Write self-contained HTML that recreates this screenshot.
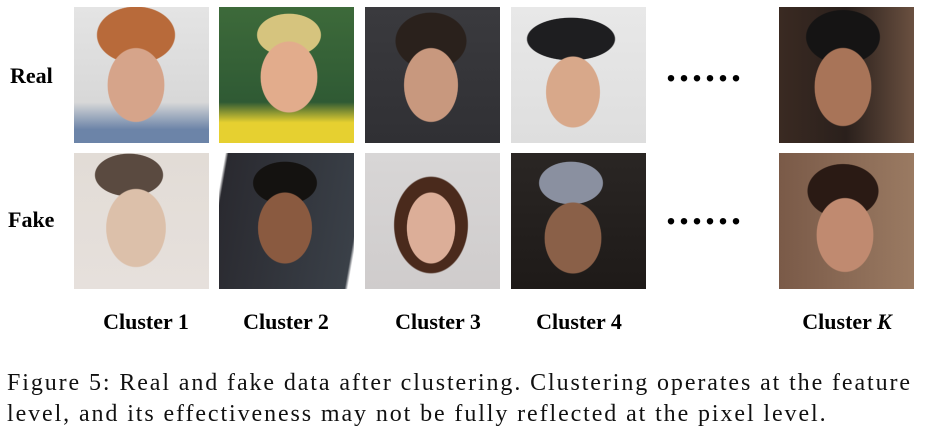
<!DOCTYPE html>
<html><head><meta charset="utf-8">
<style>
body{margin:0;width:929px;height:439px;background:#fff;overflow:hidden;position:relative;font-family:"Liberation Serif",serif;}
.img{position:absolute;width:135px;height:136px;}
.lab{position:absolute;font-weight:bold;font-size:22px;color:#000;}
.cl{position:absolute;top:309px;font-weight:bold;font-size:22px;width:160px;text-align:center;}
.dots{position:absolute;font-size:40px;font-weight:bold;letter-spacing:3px;}
.cap{position:absolute;left:7px;font-size:24px;letter-spacing:1.9px;color:#111;white-space:nowrap;}
</style></head><body>
<div class="lab" style="left:10px;top:63px">Real</div>
<div class="lab" style="left:8px;top:207px">Fake</div>

<div class="img" style="left:74px;top:7px;background:radial-gradient(ellipse 40px 52px at 62px 78px,#d6a48a 70%,transparent 72%),radial-gradient(ellipse 55px 40px at 62px 28px,#b86a3a 70%,transparent 72%),linear-gradient(#e4e4e4,#d8d8d8 70%,#6c84a8 90%)"></div>
<div class="img" style="left:219px;top:7px;background:radial-gradient(ellipse 40px 50px at 70px 70px,#e2ac8c 70%,transparent 72%),radial-gradient(ellipse 45px 30px at 70px 28px,#d6c47e 70%,transparent 72%),linear-gradient(#3d6a3a,#2f5a34 70%,#e6d030 85%)"></div>
<div class="img" style="left:365px;top:7px;background:radial-gradient(ellipse 38px 52px at 66px 78px,#c8987e 70%,transparent 72%),radial-gradient(ellipse 50px 40px at 66px 34px,#2a211c 70%,transparent 72%),linear-gradient(#3a3a3e,#303034)"></div>
<div class="img" style="left:511px;top:7px;background:radial-gradient(ellipse 38px 50px at 62px 85px,#d8a88a 70%,transparent 72%),radial-gradient(ellipse 62px 30px at 60px 32px,#1e1e20 70%,transparent 72%),linear-gradient(#e8e8e8,#dedede)"></div>
<div class="img" style="left:779px;top:7px;background:radial-gradient(ellipse 40px 55px at 64px 80px,#a87458 70%,transparent 72%),radial-gradient(ellipse 52px 38px at 64px 30px,#151414 70%,transparent 72%),linear-gradient(90deg,#3a2a22,#2a201c 50%,#6a5040)"></div>

<div class="img" style="left:74px;top:153px;background:radial-gradient(ellipse 42px 55px at 62px 75px,#dcc0aa 70%,transparent 72%),radial-gradient(ellipse 48px 30px at 55px 22px,#5a4a40 70%,transparent 72%),linear-gradient(#e2dcd6,#e6e0dc)"></div>
<div class="img" style="left:219px;top:153px;background:radial-gradient(ellipse 38px 50px at 66px 75px,#8a5a40 70%,transparent 72%),radial-gradient(ellipse 45px 30px at 66px 30px,#141210 70%,transparent 72%),linear-gradient(100deg,#fff 4%,#2a2a30 6%,#3a4048 94%,#fff 96%)"></div>
<div class="img" style="left:365px;top:153px;background:radial-gradient(ellipse 34px 50px at 66px 75px,#dcae98 70%,transparent 72%),radial-gradient(ellipse 52px 68px at 66px 72px,#4a2a1c 70%,transparent 72%),linear-gradient(#d8d6d6,#cfcccc)"></div>
<div class="img" style="left:511px;top:153px;background:radial-gradient(ellipse 40px 50px at 62px 85px,#8a6048 70%,transparent 72%),radial-gradient(ellipse 45px 30px at 60px 30px,#8a90a0 70%,transparent 72%),linear-gradient(#2a2624,#1e1a18)"></div>
<div class="img" style="left:779px;top:153px;background:radial-gradient(ellipse 40px 52px at 66px 82px,#c08a70 70%,transparent 72%),radial-gradient(ellipse 50px 38px at 64px 38px,#2a1a14 70%,transparent 72%),linear-gradient(90deg,#7a5a48,#9a7a62)"></div>

<div class="dots" style="left:666px;top:44px">......</div>
<div class="dots" style="left:666px;top:187px">......</div>

<div class="cl" style="left:66px">Cluster 1</div>
<div class="cl" style="left:206px">Cluster 2</div>
<div class="cl" style="left:358px">Cluster 3</div>
<div class="cl" style="left:499px">Cluster 4</div>
<div class="cl" style="left:767px">Cluster <i>K</i></div>

<div class="cap" style="top:370px">Figure 5: Real and fake data after clustering. Clustering operates at the feature</div>
<div class="cap" style="top:401px">level, and its effectiveness may not be fully reflected at the pixel level.</div>
</body></html>
